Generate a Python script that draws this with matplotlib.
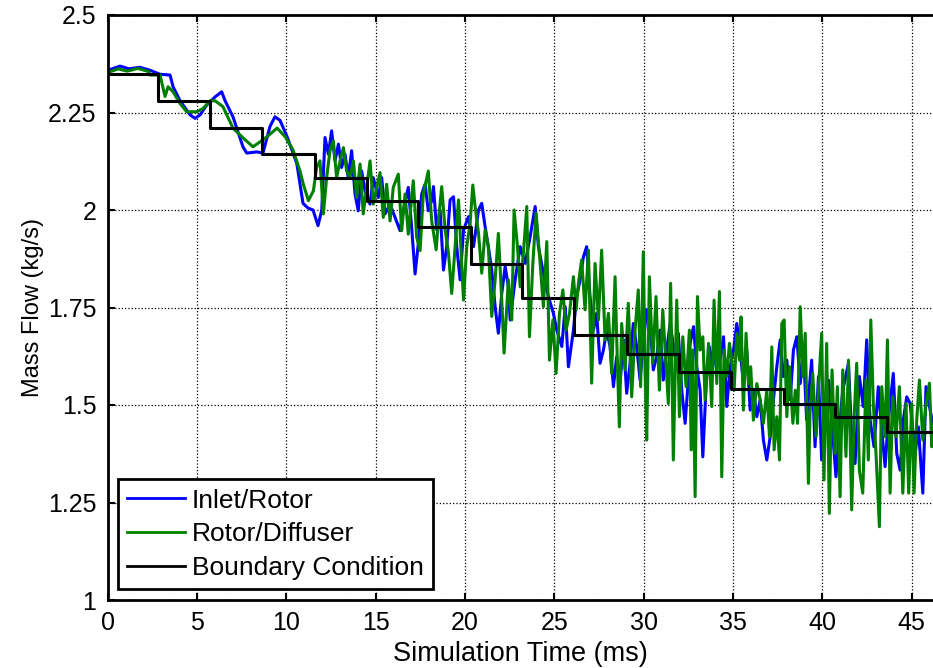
import matplotlib
matplotlib.use('Agg')
import matplotlib.pyplot as plt

# Boundary condition steps (time in ms, mass flow in kg/s)
bc_time = [0, 2.84, 5.74, 8.66, 11.6, 14.5, 17.4, 20.32, 23.2, 26.12,
           29.08, 32.0, 34.9, 37.83, 40.73, 43.6, 46.19]
bc_flow = [2.35, 2.28, 2.211, 2.144, 2.083, 2.023, 1.956, 1.862, 1.774,
           1.679, 1.632, 1.584, 1.540, 1.503, 1.469, 1.432, 1.432]

# Inlet/Rotor interface
inlet_time = [0.0, 0.7, 1.2, 1.8, 2.4, 2.94, 3.5, 3.67, 4.06, 4.62, 4.9,
              5.18, 5.55, 6.02, 6.39, 6.58, 7.02, 7.58, 7.79, 8.35, 8.7,
              9.09, 9.37, 9.65, 10.03, 10.59, 10.94, 11.22, 11.5, 11.78,
              11.99, 12.17, 12.36, 12.54, 12.73, 12.92, 13.1, 13.29, 13.47,
              13.66, 13.85, 14.03, 14.22, 14.41, 14.69, 14.87, 15.15, 15.34,
              15.53, 15.81, 16.09, 16.37, 16.55, 16.83, 17.02, 17.21, 17.39,
              17.58, 17.77, 17.95, 18.14, 18.24, 18.42, 18.61, 18.8, 18.98,
              19.17, 19.36, 19.54, 19.73, 19.92, 20.2, 20.48, 20.76, 20.94,
              21.13, 21.31, 21.5, 21.69, 21.87, 22.06, 22.25, 22.43, 22.53,
              22.81, 23.09, 23.37, 23.65, 23.93, 24.11, 24.39, 24.67, 24.95,
              25.14, 25.42, 25.61, 25.79, 26.07, 26.25, 26.44, 26.63, 26.81,
              27.0, 27.19, 27.37, 27.56, 27.75, 27.93, 28.12, 28.31, 28.49,
              28.68, 28.87, 29.05, 29.24, 29.42, 29.61, 29.8, 29.98, 30.17,
              30.36, 30.54, 30.73, 30.92, 31.1, 31.29, 31.48, 31.76, 31.94,
              32.13, 32.32, 32.5, 32.6, 32.79, 32.97, 33.16, 33.31, 33.5,
              33.68, 33.87, 34.09, 34.28, 34.47, 34.65, 34.84, 35.03, 35.21,
              35.4, 35.58, 35.77, 35.96, 36.14, 36.33, 36.52, 36.7, 36.89,
              37.08, 37.26, 37.45, 37.64, 37.82, 38.01, 38.2, 38.38, 38.57,
              38.76, 38.94, 39.12, 39.4, 39.59, 39.78, 39.96, 40.15, 40.34,
              40.52, 40.76, 40.95, 41.14, 41.46, 41.64, 41.83, 42.07, 42.29,
              42.48, 42.67, 42.89, 43.13, 43.32, 43.51, 43.69, 43.97, 44.16,
              44.35, 44.53, 44.72, 44.91, 45.19, 45.37, 45.62, 45.8, 46.03,
              46.19]
inlet_flow = [2.358, 2.369, 2.362, 2.366, 2.358, 2.348, 2.346, 2.316, 2.28,
              2.244, 2.235, 2.244, 2.269, 2.29, 2.303, 2.28, 2.239, 2.162,
              2.146, 2.149, 2.146, 2.214, 2.239, 2.23, 2.19, 2.12, 2.017,
              2.005, 2.0, 1.96, 2.0, 2.186, 2.143, 2.203, 2.126, 2.169,
              2.109, 2.143, 2.083, 2.152, 2.041, 1.998, 2.1, 2.049, 2.015,
              2.083, 2.032, 2.083, 1.99, 2.015, 1.981, 1.947, 1.998, 2.058,
              1.955, 1.836, 1.913, 2.041, 2.066, 1.998, 2.024, 2.06, 1.949,
              2.0, 1.846, 1.906, 2.026, 2.034, 1.906, 1.821, 1.949, 1.983,
              1.906, 2.0, 2.017, 1.957, 1.906, 1.846, 1.752, 1.684, 1.786,
              1.855, 1.803, 1.718, 1.821, 1.906, 1.863, 1.932, 2.009, 1.906,
              1.838, 1.778, 1.735, 1.692, 1.65, 1.752, 1.598, 1.692, 1.778,
              1.82, 1.88, 1.906, 1.778, 1.692, 1.735, 1.607, 1.641, 1.692,
              1.65, 1.547, 1.624, 1.556, 1.667, 1.53, 1.607, 1.709, 1.65,
              1.564, 1.658, 1.744, 1.709, 1.59, 1.624, 1.692, 1.564, 1.641,
              1.709, 1.624, 1.684, 1.539, 1.453, 1.564, 1.658, 1.701, 1.598,
              1.538, 1.367, 1.555, 1.649, 1.598, 1.675, 1.615, 1.675, 1.496,
              1.598, 1.641, 1.709, 1.641, 1.555, 1.641, 1.487, 1.538, 1.47,
              1.513, 1.41, 1.359, 1.419, 1.513, 1.598, 1.667, 1.573, 1.615,
              1.513, 1.641, 1.675, 1.555, 1.641, 1.462, 1.615, 1.393, 1.573,
              1.359, 1.504, 1.564, 1.462, 1.316, 1.436, 1.538, 1.607, 1.419,
              1.35, 1.573, 1.496, 1.667, 1.462, 1.393, 1.547, 1.436, 1.342,
              1.462, 1.581, 1.376, 1.333, 1.462, 1.521, 1.504, 1.376, 1.444,
              1.274, 1.547, 1.487, 1.45]

# Rotor/Diffuser interface
diff_time = [0.0, 0.6, 1.1, 1.7, 2.3, 2.38, 2.94, 3.22, 3.39, 3.67, 4.06,
             4.43, 4.99, 5.34, 5.74, 6.02, 6.46, 7.02, 7.58, 8.14, 8.7,
             8.98, 9.49, 9.94, 10.38, 10.77, 10.96, 11.24, 11.52, 11.7,
             11.89, 12.08, 12.26, 12.45, 12.64, 12.82, 13.01, 13.2, 13.38,
             13.57, 13.76, 13.94, 14.13, 14.31, 14.5, 14.69, 14.87, 15.06,
             15.25, 15.43, 15.62, 15.81, 15.99, 16.27, 16.46, 16.65, 16.83,
             17.11, 17.3, 17.49, 17.67, 17.95, 18.14, 18.39, 18.52, 18.7,
             18.89, 19.08, 19.26, 19.45, 19.64, 19.82, 19.92, 20.1, 20.29,
             20.44, 20.57, 20.76, 20.94, 21.13, 21.31, 21.5, 21.69, 21.87,
             22.06, 22.19, 22.43, 22.62, 22.75, 22.94, 23.09, 23.27, 23.46,
             23.61, 23.8, 23.98, 24.21, 24.39, 24.58, 24.73, 24.92, 25.1,
             25.29, 25.48, 25.66, 25.85, 26.07, 26.22, 26.35, 26.53, 26.72,
             26.91, 27.09, 27.28, 27.47, 27.65, 27.84, 28.03, 28.21, 28.4,
             28.53, 28.64, 28.77, 28.96, 29.14, 29.33, 29.52, 29.7, 29.83,
             29.98, 30.08, 30.17, 30.32, 30.51, 30.69, 30.88, 31.07, 31.25,
             31.38, 31.51, 31.66, 31.85, 32.0, 32.19, 32.37, 32.56, 32.66,
             32.75, 32.88, 33.01, 33.16, 33.31, 33.44, 33.63, 33.81, 33.94,
             34.09, 34.24, 34.37, 34.5, 34.65, 34.8, 34.93, 35.06, 35.21,
             35.36, 35.45, 35.58, 35.73, 35.86, 35.99, 36.14, 36.33, 36.52,
             36.7, 36.89, 37.04, 37.17, 37.3, 37.45, 37.6, 37.73, 37.86,
             38.01, 38.16, 38.35, 38.48, 38.61, 38.76, 38.91, 39.04, 39.22,
             39.31, 39.46, 39.65, 39.79, 39.96, 40.09, 40.24, 40.39, 40.54,
             40.71, 40.84, 40.99, 41.14, 41.32, 41.46, 41.64, 41.77, 41.92,
             42.07, 42.26, 42.44, 42.57, 42.71, 42.85, 43.0, 43.19, 43.32,
             43.51, 43.64, 43.79, 43.94, 44.12, 44.31, 44.5, 44.68, 44.83,
             45.0, 45.13, 45.28, 45.43, 45.62, 45.8, 45.99, 46.12, 46.19]
diff_flow = [2.352, 2.362, 2.356, 2.363, 2.355, 2.346, 2.346, 2.291, 2.316,
             2.303, 2.273, 2.252, 2.252, 2.26, 2.28, 2.28, 2.265, 2.21,
             2.185, 2.162, 2.18, 2.19, 2.21, 2.188, 2.154, 2.1, 2.066, 2.024,
             2.049, 2.109, 2.126, 1.99, 2.083, 2.152, 2.177, 2.083, 2.126,
             2.16, 2.1, 2.083, 2.126, 2.032, 2.118, 1.99, 2.058, 2.126,
             2.015, 2.058, 2.096, 1.981, 2.066, 1.972, 2.058, 2.092, 1.947,
             2.041, 1.938, 2.075, 1.93, 1.896, 2.041, 2.1, 1.972, 1.898,
             1.974, 2.06, 1.949, 1.889, 1.786, 1.906, 2.026, 1.863, 1.769,
             1.906, 1.966, 2.064, 2.009, 1.94, 1.838, 1.949, 1.906, 1.727,
             1.821, 1.94, 1.769, 1.633, 1.821, 1.718, 2.0, 1.906, 1.803,
             1.889, 2.009, 1.675, 1.863, 1.992, 1.863, 1.752, 1.919, 1.615,
             1.718, 1.581, 1.735, 1.795, 1.692, 1.735, 1.829, 1.744, 1.812,
             1.872, 1.744, 1.897, 1.556, 1.863, 1.718, 1.897, 1.667, 1.735,
             1.581, 1.829, 1.607, 1.444, 1.709, 1.59, 1.761, 1.521, 1.692,
             1.795, 1.547, 1.893, 1.59, 1.41, 1.829, 1.607, 1.778, 1.538,
             1.744, 1.607, 1.504, 1.812, 1.359, 1.769, 1.47, 1.675, 1.547,
             1.692, 1.385, 1.641, 1.265, 1.778, 1.641, 1.675, 1.513, 1.658,
             1.496, 1.769, 1.555, 1.791, 1.316, 1.641, 1.573, 1.658, 1.615,
             1.538, 1.684, 1.615, 1.726, 1.487, 1.684, 1.555, 1.598, 1.461,
             1.555, 1.513, 1.453, 1.538, 1.419, 1.649, 1.385, 1.47, 1.359,
             1.709, 1.718, 1.47, 1.598, 1.453, 1.538, 1.453, 1.752, 1.573,
             1.684, 1.299, 1.479, 1.581, 1.419, 1.547, 1.684, 1.308, 1.658,
             1.222, 1.59, 1.376, 1.547, 1.265, 1.59, 1.368, 1.615, 1.231,
             1.462, 1.607, 1.333, 1.274, 1.564, 1.359, 1.718, 1.504, 1.376,
             1.188, 1.547, 1.419, 1.667, 1.274, 1.521, 1.419, 1.547, 1.274,
             1.504, 1.274, 1.504, 1.274, 1.462, 1.564, 1.41, 1.504, 1.556,
             1.393, 1.45]

x_ticks = [0, 5, 10, 15, 20, 25, 30, 35, 40, 45]
y_ticks = [1, 1.25, 1.5, 1.75, 2, 2.25, 2.5]
y_tick_labels = ['1', '1.25', '1.5', '1.75', '2', '2.25', '2.5']


def plot_mass_flow():
    """
    Plot the two interface mass flows against the boundary condition.
    """
    plt.rcParams['font.family'] = ['Liberation Sans', 'DejaVu Sans']
    fig = plt.figure(figsize=(9.33, 6.68), dpi=100)
    ax = fig.add_axes([107.5 / 933, 68 / 668, 825.5 / 933, 585 / 668])

    ax.plot(inlet_time, inlet_flow, color='#0000ff', lw=2.2,
            label='Inlet/Rotor')
    ax.plot(diff_time, diff_flow, color='#008000', lw=2.2,
            label='Rotor/Diffuser')
    ax.plot(bc_time, bc_flow, color='black', lw=2.2, drawstyle='steps-post',
            label='Boundary Condition')

    ax.set_xlim(0, 46.19)
    ax.set_ylim(1, 2.5)
    ax.set_xticks(x_ticks)
    ax.set_yticks(y_ticks)
    ax.set_yticklabels(y_tick_labels)
    ax.tick_params(direction='in', length=5, width=1.5, labelsize=18,
                   top=True, right=False)
    ax.tick_params(axis='x', pad=8)
    ax.tick_params(axis='y', pad=8)
    ax.grid(True, color='black', linestyle=':', linewidth=0.9)
    for side in ['left', 'bottom', 'top']:
        ax.spines[side].set_linewidth(2)
    ax.spines['right'].set_visible(False)

    ax.set_xlabel('Simulation Time (ms)', fontsize=19.5, labelpad=4)
    ax.set_ylabel('Mass Flow (kg/s)', fontsize=17, labelpad=3)

    leg = ax.legend(loc='lower left', fontsize=19, fancybox=False,
                    framealpha=1, edgecolor='black', handlelength=2.2,
                    handletextpad=0.25, borderpad=0.35, borderaxespad=0.4,
                    labelspacing=0.37)
    leg.get_frame().set_linewidth(2)
    for line in leg.get_lines():
        line.set_linewidth(2)

    fig.savefig('out.png', dpi=100)


if __name__ == '__main__':
    plot_mass_flow()
